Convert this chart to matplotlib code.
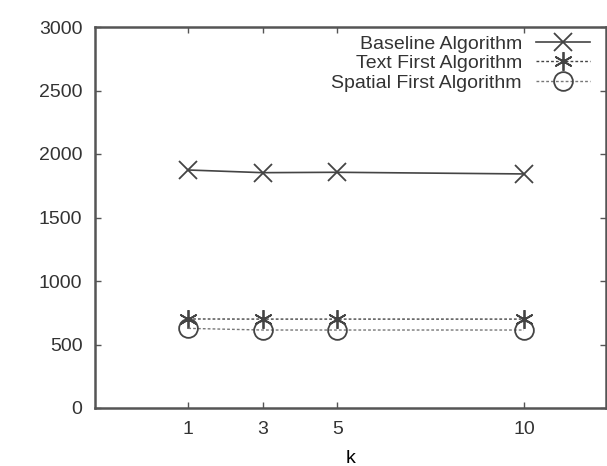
import numpy as np
import matplotlib
matplotlib.use('Agg')
import matplotlib.pyplot as plt

k = [1, 3, 5, 10]
baseline = [1874, 1853, 1856, 1843]
text_first = [701, 700, 700, 700]
spatial_first = [627, 614, 614, 614]

matplotlib.rc('font', family=['Liberation Sans', 'DejaVu Sans'], size=14)

fig = plt.figure(figsize=(6.07, 4.66), dpi=100)
ax = fig.add_axes([95 / 607, 58 / 466, 511 / 607, 381 / 466])

gray = '#444444'
ax.plot(k, baseline, color=gray, lw=1.2, linestyle='-', marker='x',
        markersize=13.5, markeredgewidth=1.3, label='Baseline Algorithm')
ax.plot(k, text_first, color=gray, lw=1.0, linestyle=(0, (2, 1.5)), marker=(6, 2, 0),
        markersize=13.5, markeredgewidth=1.3, label='Text First Algorithm')
ax.plot(k, spatial_first, color='#777777', lw=1.0, linestyle=(0, (2, 1.5)), marker='o',
        markersize=13.5, markerfacecolor='none', markeredgecolor=gray,
        markeredgewidth=1.3, label='Spatial First Algorithm')

ax.set_xlim(-1.5, 12.2)
ax.set_ylim(0, 3000)
ax.set_xticks(k)
ax.set_yticks(np.arange(0, 3001, 500))
ax.set_xlabel('k', labelpad=9)

for s in ax.spines.values():
    s.set_color('#555555')
    s.set_linewidth(1.8)
ax.tick_params(direction='in', length=4, width=1, color='#555555',
               top=True, right=True, labelcolor='#333333', pad=9)

leg = ax.legend(loc='upper right', bbox_to_anchor=(590 / 607, 431 / 466),
                bbox_transform=fig.transFigure, frameon=False, markerfirst=False,
                handlelength=2.8, handletextpad=0.7, labelspacing=0.1,
                borderaxespad=0, borderpad=0, fontsize=14)
for t in leg.get_texts():
    t.set_color('#333333')

fig.savefig('out.png', dpi=100)
